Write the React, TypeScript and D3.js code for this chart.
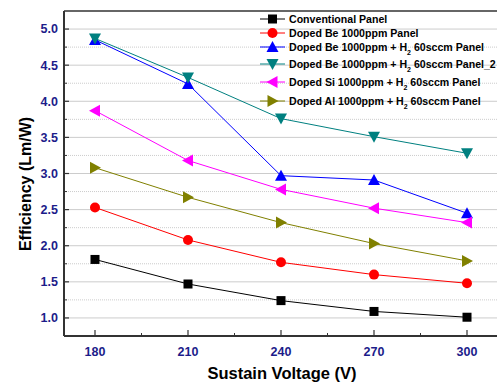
import * as d3 from "d3";

const voltages = [180, 210, 240, 270, 300];
const conventional = [1.81, 1.47, 1.24, 1.09, 1.01];
const dopedBe = [2.53, 2.08, 1.77, 1.6, 1.48];
const dopedBeH2 = [4.85, 4.24, 2.97, 2.91, 2.45];
const dopedBeH2b = [4.87, 4.33, 3.76, 3.51, 3.28];
const dopedSiH2 = [3.87, 3.18, 2.78, 2.52, 2.32];
const dopedAlH2 = [3.08, 2.67, 2.32, 2.03, 1.79];
const yTicks = [1.0, 1.5, 2.0, 2.5, 3.0, 3.5, 4.0, 4.5, 5.0];

const series = [
  { name: ["Conventional Panel"], values: conventional, color: "#000000", shape: "square" },
  { name: ["Doped Be 1000ppm Panel"], values: dopedBe, color: "#ff0000", shape: "circle" },
  { name: ["Doped Be 1000ppm + H", " 60sccm Panel"], values: dopedBeH2, color: "#0000ff", shape: "up" },
  { name: ["Doped Be 1000ppm + H", " 60sccm Panel_2"], values: dopedBeH2b, color: "#008080", shape: "down" },
  { name: ["Doped Si 1000ppm + H", " 60sccm Panel"], values: dopedSiH2, color: "#ff00ff", shape: "left" },
  { name: ["Doped Al 1000ppm + H", " 60sccm Panel"], values: dopedAlH2, color: "#808000", shape: "right" },
];

const W = 497;
const H = 384;
const M = { top: 11, right: -1, bottom: 48, left: 64 };

const Marker = ({ shape, x, y, color }: { shape: string; x: number; y: number; color: string }) => {
  const s = 5;
  if (shape === "square") return <rect x={x - 4.5} y={y - 4.5} width={9} height={9} fill={color} />;
  if (shape === "circle") return <circle cx={x} cy={y} r={5} fill={color} />;
  let pts: number[][] = [];
  if (shape === "up") pts = [[0, -s - 1], [s + 1, s], [-s - 1, s]];
  if (shape === "down") pts = [[0, s + 1], [s + 1, -s], [-s - 1, -s]];
  if (shape === "left") pts = [[-s - 1, 0], [s, -s - 1], [s, s + 1]];
  if (shape === "right") pts = [[s + 1, 0], [-s, -s - 1], [-s, s + 1]];
  return <polygon points={pts.map((p) => `${x + p[0]},${y + p[1]}`).join(" ")} fill={color} />;
};

export default function App() {
  const x = d3.scaleLinear().domain([170, 310]).range([M.left, W - M.right]);
  const y = d3.scaleLinear().domain([0.75, 5.25]).range([H - M.bottom, M.top]);
  const minorY = d3.range(1.25, 5.25, 0.5);
  const minorX = [195, 225, 255, 285];
  const line = d3
    .line<number>()
    .x((_, i) => x(voltages[i]))
    .y((d) => y(d));
  const bottom = H - M.bottom;
  const tickColor = "#1c1c8a";

  return (
    <svg width={W} height={H} style={{ position: "absolute", left: 0, top: 0 }} fontFamily="Arial, Liberation Sans, sans-serif">
      {yTicks.map((t) => (
        <line key={t} x1={M.left} x2={W} y1={y(t)} y2={y(t)} stroke="#cccccc" strokeWidth={1} />
      ))}
      {minorY.map((t) => (
        <line key={t} x1={M.left} x2={W} y1={y(t)} y2={y(t)} stroke="#cccccc" strokeWidth={1} strokeDasharray="1,1" />
      ))}
      <line x1={M.left} x2={W} y1={M.top} y2={M.top} stroke="#333" strokeWidth={1.5} />
      <line x1={M.left} x2={M.left} y1={M.top} y2={bottom} stroke="#333" strokeWidth={2} />
      <line x1={M.left} x2={W} y1={bottom} y2={bottom} stroke="#333" strokeWidth={2} />
      {yTicks.map((t) => (
        <g key={t}>
          <line x1={M.left} x2={M.left + 5} y1={y(t)} y2={y(t)} stroke="#333" strokeWidth={1.2} />
          <text x={M.left - 6} y={y(t)} dy="0.35em" textAnchor="end" fontSize={12.5} fontWeight="bold" fill={tickColor}>
            {t.toFixed(1)}
          </text>
        </g>
      ))}
      {minorY.map((t) => (
        <line key={t} x1={M.left} x2={M.left + 3} y1={y(t)} y2={y(t)} stroke="#333" strokeWidth={1} />
      ))}
      {voltages.map((v) => (
        <g key={v}>
          <line x1={x(v)} x2={x(v)} y1={bottom} y2={bottom - 6} stroke="#333" strokeWidth={1.2} />
          <text x={x(v)} y={bottom + 20} textAnchor="middle" fontSize={12.5} fontWeight="bold" fill={tickColor}>
            {v}
          </text>
        </g>
      ))}
      {minorX.map((v) => (
        <line key={v} x1={x(v)} x2={x(v)} y1={bottom} y2={bottom - 3} stroke="#333" strokeWidth={1} />
      ))}
      <text x={282} y={379} textAnchor="middle" fontSize={16.5} fontWeight="bold" fill="#000">
        Sustain Voltage (V)
      </text>
      <text transform="translate(31, 184) rotate(-90)" textAnchor="middle" fontSize={16} fontWeight="bold" fill="#000">
        Efficiency (Lm/W)
      </text>
      {series.map((s) => (
        <g key={s.name.join("")}>
          <path d={line(s.values) || ""} fill="none" stroke={s.color} strokeWidth={1} />
          {s.values.map((v, i) => (
            <Marker key={i} shape={s.shape} x={x(voltages[i])} y={y(v)} color={s.color} />
          ))}
        </g>
      ))}
      {series.map((s, i) => {
        const ly = [19, 33, 47, 64, 82, 101][i];
        return (
          <g key={i}>
            <line x1={260} x2={285} y1={ly} y2={ly} stroke={s.color} strokeWidth={1} />
            <Marker shape={s.shape} x={272.5} y={ly} color={s.color} />
            <text x={289} y={ly} dy="0.35em" fontSize={10.6} fontWeight="bold" fill="#000">
              {s.name[0]}
              {s.name.length > 1 && (
                <>
                  <tspan fontSize={7} dy="4">2</tspan>
                  <tspan dy="-4">{s.name[1]}</tspan>
                </>
              )}
            </text>
          </g>
        );
      })}
    </svg>
  );
}
